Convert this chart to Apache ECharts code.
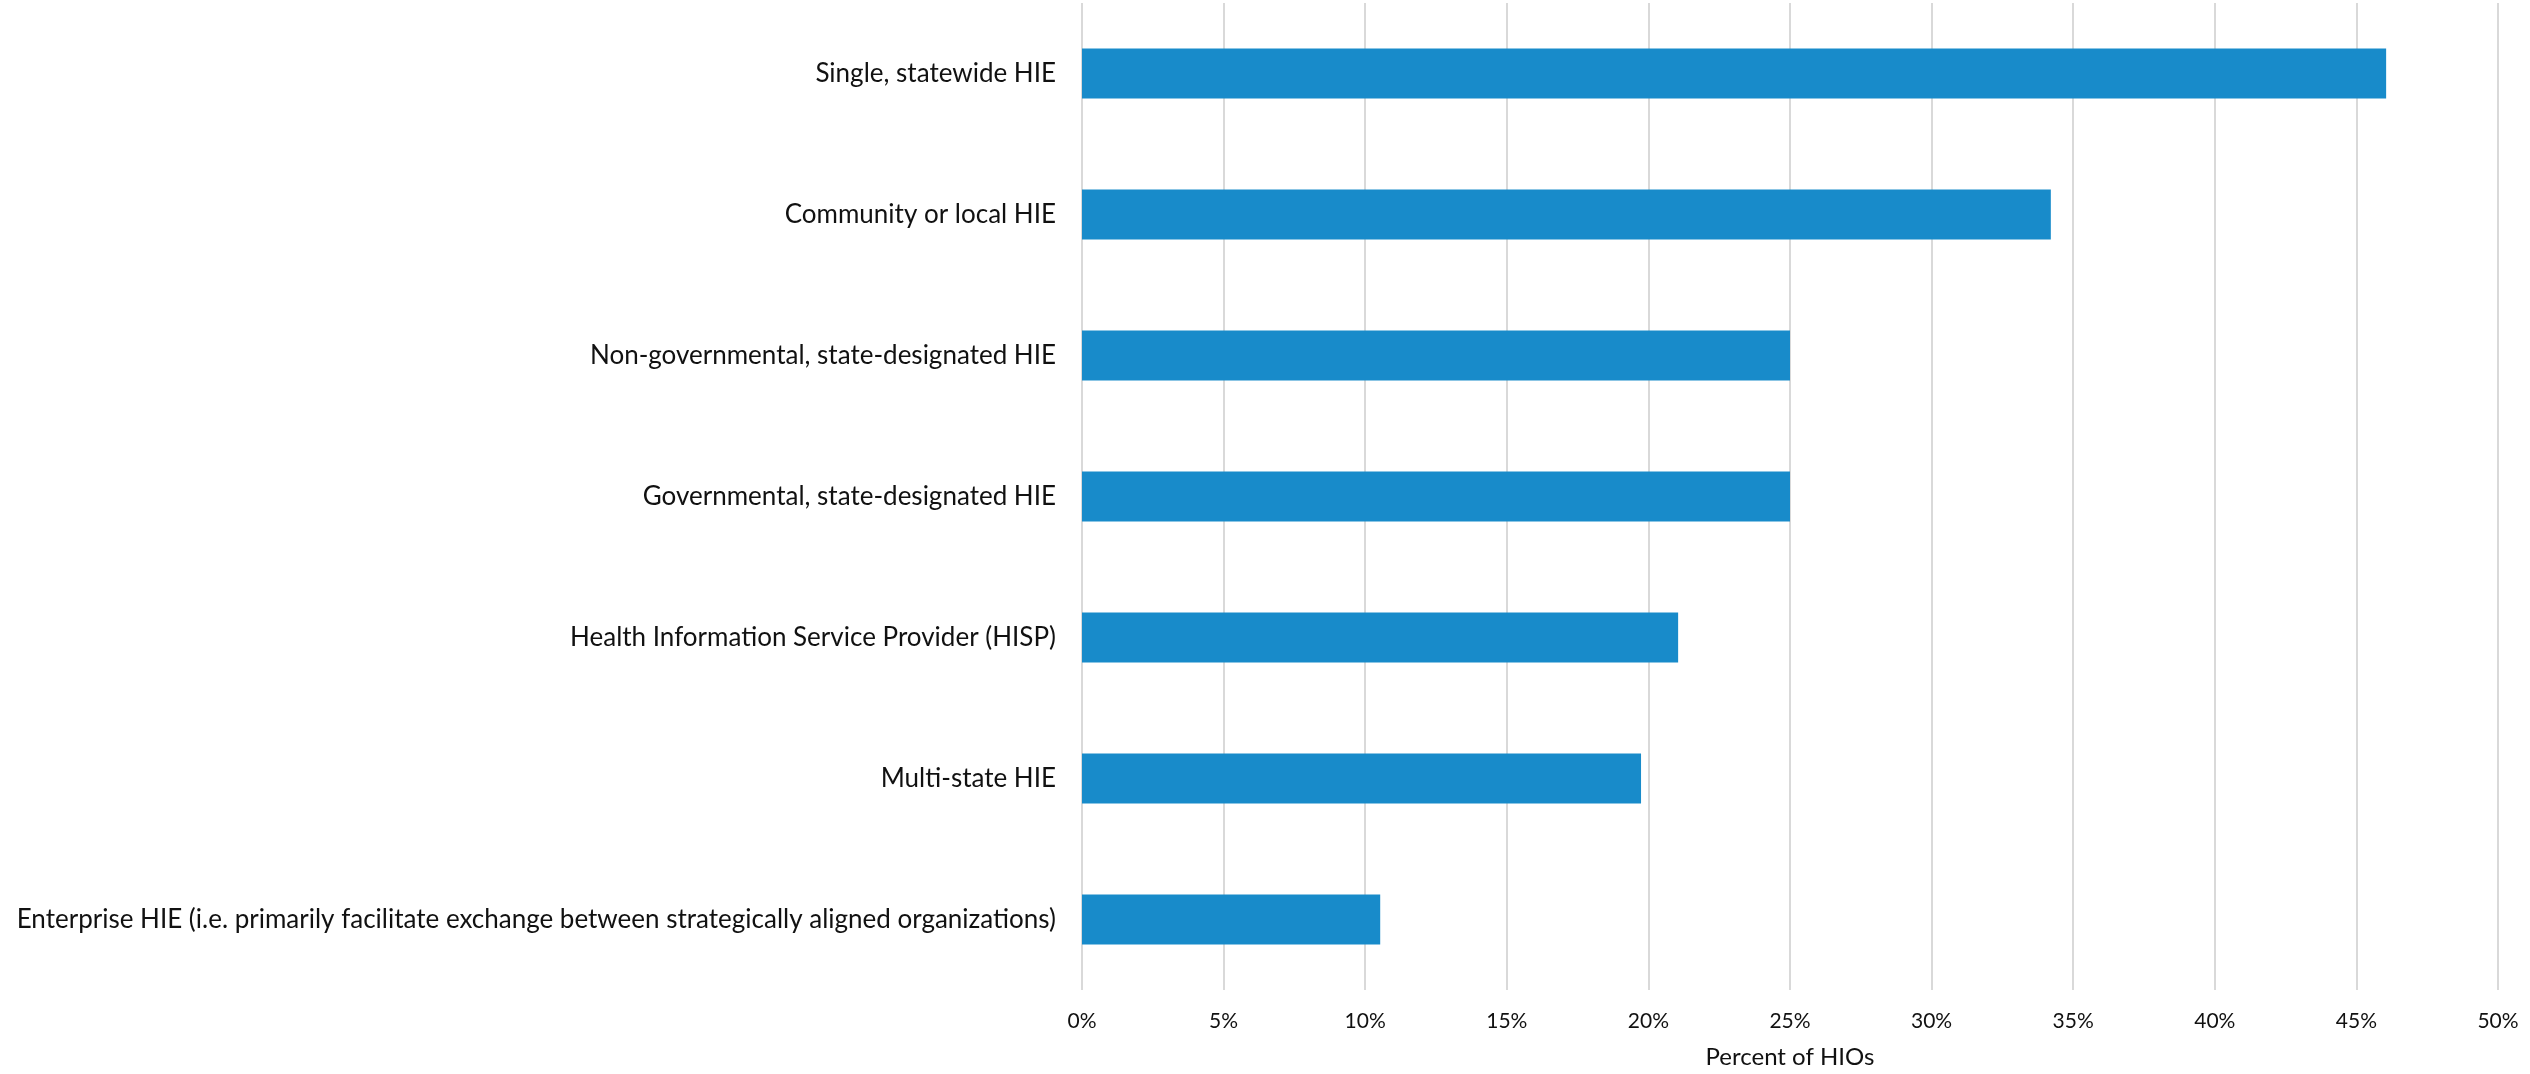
<!DOCTYPE html>
<html>
<head>
<meta charset="utf-8">
<title>HIE participation by type</title>
<script src="https://cdn.jsdelivr.net/npm/echarts@6/dist/echarts.min.js"></script>
<style>
  html, body { margin: 0; padding: 0; background: #ffffff; }
  #chart { width: 2530px; height: 1074px; }
</style>
</head>
<body>
<div id="chart"></div>
<script>
// HIE types, listed top to bottom
const categories = [
  'Single, statewide HIE',
  'Community or local HIE',
  'Non-governmental, state-designated HIE',
  'Governmental, state-designated HIE',
  'Health Information Service Provider (HISP)',
  'Multi-state HIE',
  'Enterprise HIE (i.e. primarily facilitate exchange between strategically aligned organizations)'
];

// Percent of HIOs for each type
const percentValues = [46.05, 34.21, 25.0, 25.0, 21.05, 19.74, 10.53];

// Value axis ticks (percent)
const tickValues = [0, 5, 10, 15, 20, 25, 30, 35, 40, 45, 50];

const axisTitle = 'Percent of HIOs';
const fontFamily = 'Lato, "Open Sans", sans-serif';

const chart = echarts.init(document.getElementById('chart'), null, { renderer: 'canvas' });

chart.setOption({
  animation: false,
  backgroundColor: '#ffffff',
  grid: {
    left: 1082,
    right: 32,
    top: 3,
    bottom: 82,
    containLabel: false
  },
  xAxis: {
    type: 'value',
    min: tickValues[0],
    max: tickValues[tickValues.length - 1],
    interval: tickValues[1] - tickValues[0],
    name: axisTitle,
    nameLocation: 'middle',
    nameGap: 55,
    nameTextStyle: { color: '#111111', fontSize: 24, fontFamily: fontFamily },
    axisLine: { show: false },
    axisTick: { show: false },
    axisLabel: {
      color: '#111111',
      fontSize: 21,
      fontFamily: fontFamily,
      margin: 21,
      formatter: v => v + '%'
    },
    splitLine: { show: true, lineStyle: { color: '#d9d9d9', width: 2 } }
  },
  yAxis: {
    type: 'category',
    data: categories,
    inverse: true,
    axisLine: { show: false },
    axisTick: { show: false },
    axisLabel: {
      color: '#111111',
      fontSize: 26,
      fontFamily: fontFamily,
      margin: 26
    },
    splitLine: { show: false }
  },
  series: [{
    type: 'bar',
    data: percentValues,
    barWidth: 50,
    itemStyle: { color: '#188bca' },
    label: { show: false }
  }]
});
</script>
</body>
</html>
